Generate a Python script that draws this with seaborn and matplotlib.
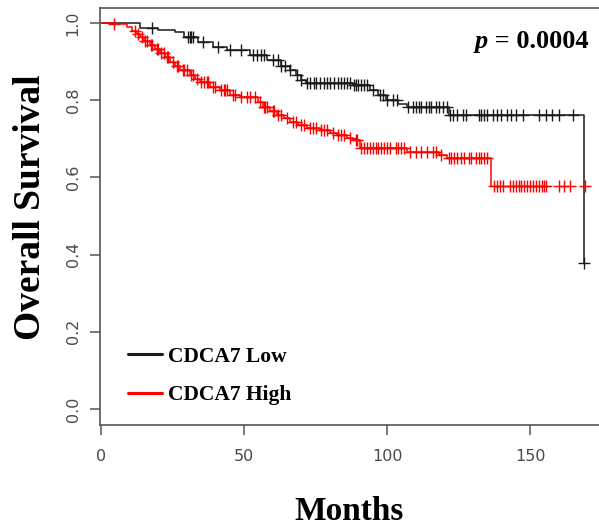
import numpy as np
import pandas as pd
import matplotlib
matplotlib.use("Agg")
import matplotlib.pyplot as plt
import seaborn as sns

# Kaplan-Meier step points (month, survival after the step)
low_times = [0, 13.5, 20, 26, 29, 34, 39, 44, 52, 58, 63, 66, 68, 70, 71.5,
             88, 94, 97, 99.5, 104, 107, 121.5, 168.7]
low_surv = [1.0, 0.987, 0.982, 0.977, 0.964, 0.951, 0.938, 0.930, 0.917, 0.904,
            0.890, 0.878, 0.866, 0.852, 0.845, 0.839, 0.826, 0.813, 0.800,
            0.791, 0.782, 0.762, 0.378]

high_times = [0, 4, 9, 11, 12.5, 13.6, 15, 17, 19, 20.6, 22.5, 24, 26, 27.6,
              31, 33, 34.6, 38, 41.6, 45, 48.6, 55, 56.6, 59, 61.5, 64, 66,
              69, 72, 76.6, 80, 82.5, 86, 88, 90.5, 107, 118, 121, 136.5]
high_surv = [1.0, 0.997, 0.990, 0.980, 0.972, 0.963, 0.953, 0.943, 0.932,
             0.922, 0.911, 0.900, 0.889, 0.878, 0.865, 0.855, 0.847, 0.834,
             0.826, 0.813, 0.808, 0.795, 0.782, 0.772, 0.762, 0.753, 0.744,
             0.736, 0.728, 0.723, 0.716, 0.710, 0.702, 0.697, 0.676, 0.666,
             0.658, 0.650, 0.578]

# censoring times (months)
low_censor = [18, 30.5, 31, 31.5, 32, 35.5, 41, 45, 49, 53, 54.5, 56, 57, 60,
              62, 63, 64.5, 66, 68.5, 70, 72, 73, 74.5, 75, 76.5, 78, 79, 80,
              81.5, 83, 84, 85, 86, 87, 88.5, 89, 90, 91, 92, 93, 95, 97.5,
              98.5, 100, 102, 103.5, 107.5, 109, 110, 111, 112, 113.5, 114.5,
              115.5, 117, 118, 119.5, 121, 122, 123, 124.5, 126.5, 127.5, 132,
              133, 134, 135, 137, 138.5, 140, 142, 143.5, 145, 147.5, 153,
              155.5, 157.5, 160, 165, 168.7]
high_censor = [4.5, 12, 13, 14.5, 15.5, 16, 17.5, 18, 19.5, 20, 21, 22, 23,
               23.5, 25, 26.5, 27, 28.5, 29, 30, 31.5, 32, 33.5, 35, 36, 37,
               37.5, 39, 40, 42, 43, 43.5, 44, 46, 47, 49, 51, 52, 54, 55.5,
               57, 57.5, 58, 60, 60.5, 62, 63, 65, 67, 68, 70, 71, 73, 74, 75,
               77, 78, 79, 81, 83, 84, 85, 87, 89, 89.5, 91, 92, 93, 94, 95,
               96, 97, 98, 99, 100, 101, 103, 104, 105, 106, 108, 110, 112,
               114, 116, 117, 119, 121.5, 122.5, 123.5, 124.5, 126, 127, 128.5,
               129.5, 131, 132, 133, 134, 135, 137.5, 138.5, 139.5, 140.5, 143,
               144, 145, 146, 147, 148, 149, 150, 151, 152, 153, 154, 155,
               155.5, 160, 162, 164, 169.2]

groups = ["CDCA7 Low", "CDCA7 High"]
colors = ["#1a1a1a", "#ff0000"]
p_text = "0.0004"


def surv_at(times, surv, c):
    idx = np.searchsorted(times, c, side="right") - 1
    return np.asarray(surv)[idx]


sns.set_style("white")
fig = plt.figure(figsize=(5.99, 5.28), dpi=100)
ax = fig.add_axes([100 / 599, 1 - 425 / 528, 499 / 599, 417 / 528])

handles = []
for name, t, s, cens, col in [(groups[0], low_times, low_surv, low_censor, colors[0]),
                              (groups[1], high_times, high_surv, high_censor, colors[1])]:
    df = pd.DataFrame({"month": t, "surv": s})
    sns.lineplot(data=df, x="month", y="surv", drawstyle="steps-post",
                 estimator=None, sort=False, color=col, linewidth=1.1, ax=ax)
    handles.append(ax.lines[-1])
    cdf = pd.DataFrame({"month": cens, "surv": surv_at(t, s, cens)})
    sns.scatterplot(data=cdf, x="month", y="surv", marker="+", color=col,
                    s=85, linewidth=1.0, ax=ax, zorder=3)

ax.set_xlim(-0.35, 174.1)
ax.set_ylim(-0.0415, 1.039)
ax.set_xticks([0, 50, 100, 150])
ax.set_yticks([0.0, 0.2, 0.4, 0.6, 0.8, 1.0])
ax.set_yticklabels(["0.0", "0.2", "0.4", "0.6", "0.8", "1.0"])

spine_col = "#555555"
for side in ["left", "bottom", "top"]:
    ax.spines[side].set_color(spine_col)
    ax.spines[side].set_linewidth(1.2)
ax.spines["right"].set_visible(False)

ax.tick_params(axis="both", direction="out", length=7, width=1.1,
               color=spine_col, labelcolor="#4a4a4a", labelsize=11.5)
ax.tick_params(axis="x", pad=10, bottom=True)
ax.tick_params(axis="y", pad=7, labelrotation=90, left=True)
for lab in ax.get_yticklabels():
    lab.set_verticalalignment("center")

serif = ["Liberation Serif", "DejaVu Serif"]
ax.set_xlabel("Months", fontsize=24, fontweight="bold", family=serif, color="black")
ax.set_ylabel("Overall Survival", fontsize=27, fontweight="bold", family=serif, color="black")
ax.xaxis.set_label_coords(0.5, -0.171)
ax.yaxis.set_label_coords(-0.105, 0.523)

t = ax.text(0.98, 0.905, " = " + p_text, transform=ax.transAxes, ha="right",
            va="baseline", fontsize=19, fontweight="bold", family=serif, color="black")
ax.annotate("p", xy=(0, 0), xycoords=t, ha="right", va="bottom", fontsize=19,
            fontweight="bold", style="italic", family=serif, color="black")

leg = ax.legend(handles=handles, labels=groups, loc="upper left",
                bbox_to_anchor=(0.056, 0.188), frameon=False, borderpad=0,
                borderaxespad=0, handlelength=1.6, handletextpad=0.25,
                labelspacing=0.85, prop={"family": serif, "weight": "bold", "size": 15.5})
for line in leg.get_lines():
    line.set_linewidth(2.2)
for txt in leg.get_texts():
    txt.set_color("black")

fig.savefig("out.png", dpi=100)
